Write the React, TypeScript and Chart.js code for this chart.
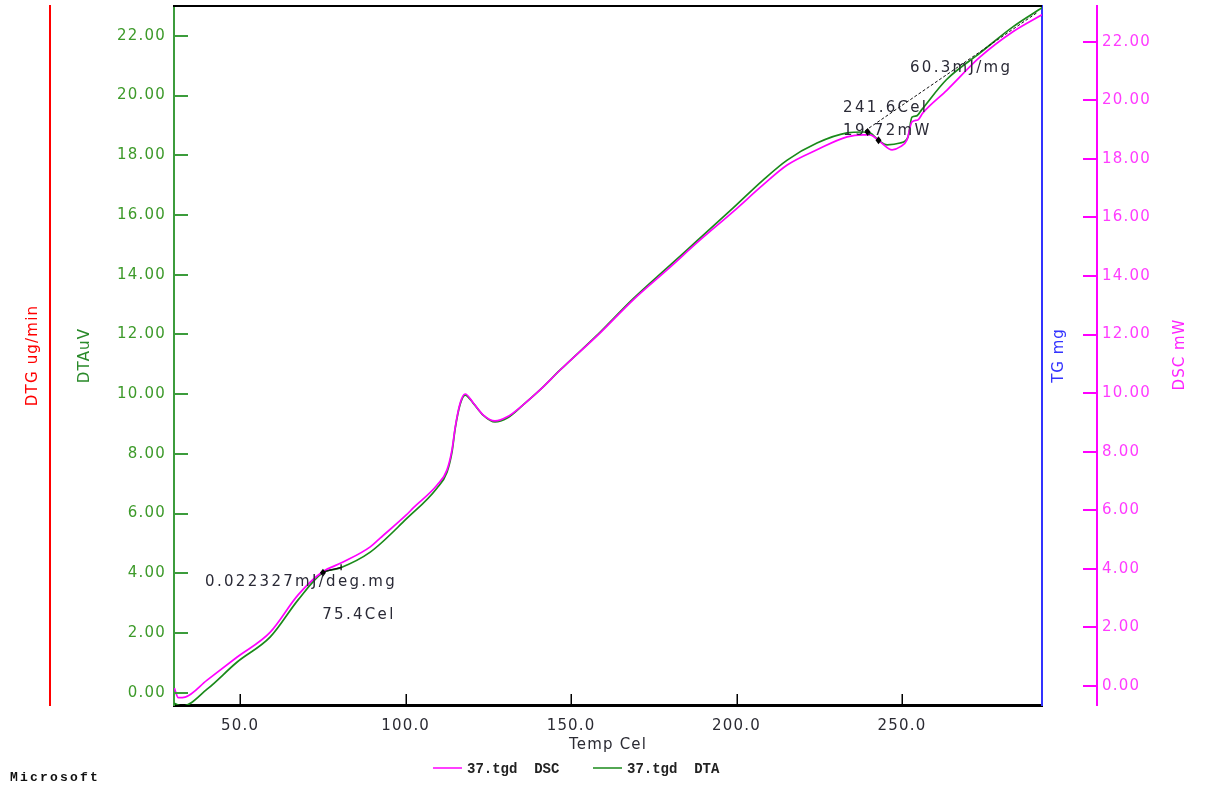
import React, { useEffect, useRef } from 'react';
import { Chart, registerables } from 'chart.js';

Chart.register(...registerables);

const W = 1205;
const H = 787;
const FONT = '"DejaVu Sans", Verdana, sans-serif';
const MONO = '"Liberation Mono", "Courier New", monospace';

// Axis ticks
const X_TICKS = [50, 100, 150, 200, 250];
const Y_TICKS = [0, 2, 4, 6, 8, 10, 12, 14, 16, 18, 20, 22];

// DSC series (mW) vs temperature (Cel)
const DSC_T = [30.1, 31.3, 33.4, 40.0, 49.1, 59.1, 67.5, 74.8, 81.1, 89.3, 92.3, 100.2, 102.3, 109.5, 112.5, 114.0, 115.0, 116.5, 118.0, 120.4, 123.4, 127.0, 130.7, 135.5, 140.6, 146.7, 158.8, 168.7, 179.0, 189.0, 198.9, 208.0, 215.3, 224.3, 233.4, 238.2, 240.3, 243.4, 247.0, 249.4, 251.5, 253.0, 254.8, 256.3, 263.6, 273.6, 283.5, 292.3];
const DSC_V = [-0.07, -0.40, -0.38, 0.20, 0.99, 1.84, 3.11, 3.89, 4.23, 4.75, 5.05, 5.84, 6.08, 6.86, 7.38, 8.06, 8.85, 9.67, 9.97, 9.67, 9.26, 9.05, 9.19, 9.60, 10.11, 10.79, 12.06, 13.18, 14.21, 15.23, 16.19, 17.11, 17.79, 18.31, 18.75, 18.82, 18.82, 18.58, 18.31, 18.41, 18.65, 19.26, 19.33, 19.57, 20.35, 21.48, 22.34, 22.92];

// DTA series (uV) vs temperature (Cel)
const DTA_T = [30.1, 32.5, 40.0, 49.1, 59.1, 67.5, 74.8, 80.2, 89.3, 100.2, 109.5, 112.5, 114.0, 115.0, 116.5, 118.0, 120.4, 123.4, 127.0, 130.7, 135.5, 140.6, 146.7, 158.8, 168.7, 179.0, 189.0, 198.9, 208.0, 215.3, 224.3, 233.4, 238.2, 240.3, 242.7, 245.5, 249.4, 251.8, 253.0, 254.4, 255.9, 263.4, 273.6, 283.5, 292.3];
const DTA_V = [-0.35, -0.45, 0.12, 1.03, 1.87, 3.11, 4.01, 4.18, 4.71, 5.82, 6.86, 7.39, 8.06, 8.87, 9.67, 9.97, 9.70, 9.30, 9.07, 9.20, 9.64, 10.14, 10.81, 12.08, 13.19, 14.23, 15.23, 16.23, 17.17, 17.84, 18.41, 18.75, 18.78, 18.75, 18.52, 18.35, 18.41, 18.61, 19.28, 19.32, 19.52, 20.53, 21.43, 22.30, 22.94];

// Annotation texts anchored in data coordinates (temperature, DTA value)
const ANNOT_TEXT = ['0.022327mJ/deg.mg', '75.4Cel', '241.6Cel', '19.72mW', '60.3mJ/mg'];
const ANNOT_X = [39.4, 74.8, 232.2, 232.2, 252.4];
const ANNOT_Y = [3.71, 2.60, 19.59, 18.80, 20.93];
// Dashed reference line (temperature, DTA value)
const DASH_X = [238.8, 291.1];
const DASH_Y = [18.82, 22.80];
// Marker points (temperature, DTA value)
const MARK_X = [75.0, 239.6, 242.9];
const MARK_Y = [4.02, 18.78, 18.50];
// Step line at first marker
const STEP_X = [75.4, 80.5];
const STEP_Y = [4.06, 4.20];

const LEGEND_LABELS = ['37.tgd  DSC', '37.tgd  DTA'];
const COLORS = { dsc: '#ff00ff', dta: '#1a8a1a' };

export default function App() {
  const ref = useRef<HTMLCanvasElement>(null);

  useEffect(() => {
    const canvas = ref.current;
    if (!canvas) return;

    const fit = (w?: number, h?: number) => (scale: any) => {
      if (w !== undefined) scale.width = w;
      if (h !== undefined) scale.height = h;
      scale.paddingTop = 0;
      scale.paddingBottom = 0;
      scale.paddingLeft = 0;
      scale.paddingRight = 0;
    };
    const setTicks = (vals: number[]) => (scale: any) => {
      scale.ticks = vals.map((v) => ({ value: v }));
    };

    const SPACING = '1.2px';

    const decor = {
      id: 'decor',
      beforeUpdate(chart: any) {
        chart.ctx.letterSpacing = SPACING;
      },
      beforeDraw(chart: any) {
        const ctx = chart.ctx;
        ctx.save();
        ctx.fillStyle = '#ffffff';
        ctx.fillRect(0, 0, chart.width, chart.height);
        ctx.restore();
        ctx.letterSpacing = SPACING;
      },
      afterDraw(chart: any) {
        const ctx = chart.ctx;
        const { left, right, top, bottom } = chart.chartArea;
        const sx = chart.scales.x;
        const sA = chart.scales.yDTA;
        const sD = chart.scales.yDSC;
        const sT = chart.scales.yTG;
        const line = (x1: number, y1: number, x2: number, y2: number) => {
          ctx.beginPath();
          ctx.moveTo(x1, y1);
          ctx.lineTo(x2, y2);
          ctx.stroke();
        };
        ctx.save();
        ctx.setLineDash([]);
        // top border
        ctx.strokeStyle = '#000';
        ctx.lineWidth = 2;
        line(left - 1, top, right, top);
        // x ticks (inward)
        ctx.lineWidth = 1.5;
        X_TICKS.forEach((v) => {
          const px = Math.round(sx.getPixelForValue(v)) + 0.25;
          line(px, bottom, px, bottom - 11);
        });
        // DTA ticks (inward, green)
        ctx.strokeStyle = '#3c9c3c';
        ctx.lineWidth = 2;
        Y_TICKS.forEach((v) => {
          const py = Math.round(sA.getPixelForValue(v));
          line(left, py, left + 14, py);
        });
        // DSC ticks (magenta, pointing left from its axis line)
        ctx.strokeStyle = '#ff00ff';
        Y_TICKS.forEach((v) => {
          const py = Math.round(sD.getPixelForValue(v));
          line(sD.left - 14, py, sD.left, py);
        });

        // dashed reference line
        ctx.strokeStyle = '#111';
        ctx.lineWidth = 1;
        ctx.setLineDash([3, 2]);
        line(
          sx.getPixelForValue(DASH_X[0]), sA.getPixelForValue(DASH_Y[0]),
          sx.getPixelForValue(DASH_X[1]), sA.getPixelForValue(DASH_Y[1])
        );
        ctx.setLineDash([]);
        // step line
        ctx.lineWidth = 1.3;
        const s1x = sx.getPixelForValue(STEP_X[0]);
        const s1y = sA.getPixelForValue(STEP_Y[0]);
        const s2x = sx.getPixelForValue(STEP_X[1]);
        const s2y = sA.getPixelForValue(STEP_Y[1]);
        line(s1x, s1y, s2x, s2y);
        line(s2x, s2y - 3, s2x, s2y + 3);
        // markers
        ctx.fillStyle = '#000';
        MARK_X.forEach((mx, i) => {
          const px = sx.getPixelForValue(mx);
          const py = sA.getPixelForValue(MARK_Y[i]);
          ctx.beginPath();
          ctx.moveTo(px, py - 4);
          ctx.lineTo(px + 3, py);
          ctx.lineTo(px, py + 4);
          ctx.lineTo(px - 3, py);
          ctx.closePath();
          ctx.fill();
        });

        // annotation texts
        ctx.font = `15px ${FONT}`;
        ctx.letterSpacing = '2.3px';
        ctx.fillStyle = '#2a2a36';
        ctx.textAlign = 'left';
        ctx.textBaseline = 'middle';
        ANNOT_TEXT.forEach((t, i) => {
          ctx.fillText(t, sx.getPixelForValue(ANNOT_X[i]), sA.getPixelForValue(ANNOT_Y[i]));
        });

        // right axis titles (rotated, reading upward)
        const midY = (top + bottom) / 2;
        const vtext = (text: string, cx: number, cy: number, color: string) => {
          ctx.save();
          ctx.translate(cx, cy);
          ctx.rotate(-Math.PI / 2);
          ctx.textAlign = 'center';
          ctx.textBaseline = 'middle';
          ctx.fillStyle = color;
          ctx.font = `15px ${FONT}`;
          ctx.letterSpacing = '1px';
          ctx.fillText(text, 0, 0);
          ctx.restore();
        };
        vtext('TG mg', sT.left + 17, midY, '#3333ff');
        vtext('DSC mW', sD.left + 83, midY - 1, '#ff22ff');

        // legend
        ctx.font = `bold 14px ${MONO}`;
        ctx.letterSpacing = '0px';
        ctx.textAlign = 'left';
        ctx.textBaseline = 'middle';
        const legY = 769;
        const legX = [433, 593];
        const legCol = [COLORS.dsc, COLORS.dta];
        LEGEND_LABELS.forEach((lab, i) => {
          ctx.strokeStyle = legCol[i];
          ctx.lineWidth = 1.5;
          line(legX[i], legY - 1, legX[i] + 29, legY - 1);
          ctx.fillStyle = '#222';
          ctx.fillText(lab, legX[i] + 34, legY);
        });

        // footer
        ctx.font = `bold 13px ${MONO}`;
        ctx.letterSpacing = '2.2px';
        ctx.fillStyle = '#111';
        ctx.fillText('Microsoft', 10, 778);
        ctx.restore();
        ctx.letterSpacing = SPACING;
      },
    };

    const tickFont = { family: FONT, size: 15 };

    const chart = new Chart(canvas, {
      type: 'line',
      data: {
        datasets: [
          {
            label: LEGEND_LABELS[0],
            data: DSC_T.map((t, i) => ({ x: t, y: DSC_V[i] })),
            borderColor: COLORS.dsc,
            backgroundColor: COLORS.dsc,
            borderWidth: 1.7,
            pointRadius: 0,
            cubicInterpolationMode: 'monotone',
            xAxisID: 'x',
            yAxisID: 'yDSC',
          },
          {
            label: LEGEND_LABELS[1],
            data: DTA_T.map((t, i) => ({ x: t, y: DTA_V[i] })),
            borderColor: COLORS.dta,
            backgroundColor: COLORS.dta,
            borderWidth: 1.7,
            pointRadius: 0,
            cubicInterpolationMode: 'monotone',
            xAxisID: 'x',
            yAxisID: 'yDTA',
          },
        ],
      },
      options: {
        responsive: false,
        animation: false,
        devicePixelRatio: 1,
        events: [],
        layout: { padding: { top: 6, left: 0, right: 0, bottom: 0 } },
        plugins: { legend: { display: false }, tooltip: { enabled: false } },
        scales: {
          x: {
            type: 'linear',
            position: 'bottom',
            min: 30,
            max: 292.3,
            afterBuildTicks: setTicks(X_TICKS),
            afterFit: fit(undefined, 82),
            grid: { display: false, drawTicks: false },
            border: { display: true, color: '#000', width: 3 },
            ticks: {
              color: '#2b2b33',
              font: tickFont,
              padding: 12,
              autoSkip: false,
              maxRotation: 0,
              callback: (v: any) => Number(v).toFixed(1),
            },
            title: {
              display: true,
              text: 'Temp Cel',
              color: '#2b2b33',
              font: tickFont,
              padding: { top: 0, bottom: 33 },
            },
          },
          yDTG: {
            type: 'linear',
            position: 'left',
            display: true,
            weight: 1,
            min: 0,
            max: 1,
            afterFit: fit(50),
            grid: { display: false, drawTicks: false },
            border: { display: true, color: '#ff0000', width: 2 },
            ticks: { display: false },
            title: {
              display: true,
              text: 'DTG ug/min',
              color: '#ff0000',
              font: tickFont,
              padding: { top: 24, bottom: 0 },
            },
          },
          yDTA: {
            type: 'linear',
            position: 'left',
            display: true,
            weight: 0,
            min: -0.41,
            max: 23.0,
            afterBuildTicks: setTicks(Y_TICKS),
            afterFit: fit(124),
            grid: { display: false, drawTicks: false },
            border: { display: true, color: '#3c9c3c', width: 2 },
            ticks: {
              color: '#3d9a2a',
              font: tickFont,
              padding: 8,
              autoSkip: false,
              callback: (v: any) => Number(v).toFixed(2),
            },
            title: {
              display: true,
              text: 'DTAuV',
              color: '#2a8a2a',
              font: tickFont,
              padding: { top: 26, bottom: 0 },
            },
          },
          yTG: {
            type: 'linear',
            position: 'right',
            display: true,
            weight: 0,
            min: 0,
            max: 1,
            afterFit: fit(55),
            grid: { display: false, drawTicks: false },
            border: { display: true, color: '#3333ff', width: 2 },
            ticks: { display: false },
          },
          yDSC: {
            type: 'linear',
            position: 'right',
            display: true,
            weight: 1,
            min: -0.65,
            max: 23.22,
            afterBuildTicks: setTicks(Y_TICKS),
            afterFit: fit(108),
            grid: { display: false, drawTicks: false },
            border: { display: true, color: '#ff00ff', width: 2 },
            ticks: {
              color: '#ff3cff',
              font: tickFont,
              padding: 5,
              autoSkip: false,
              callback: (v: any) => Number(v).toFixed(2),
            },
          },
        },
      } as any,
      plugins: [decor],
    });

    return () => {
      chart.destroy();
    };
  }, []);

  return (
    <div style={{ position: 'fixed', left: 0, top: 0, width: W, height: H, background: '#fff' }}>
      <canvas ref={ref} width={W} height={H} style={{ display: 'block', width: W, height: H }} />
    </div>
  );
}
